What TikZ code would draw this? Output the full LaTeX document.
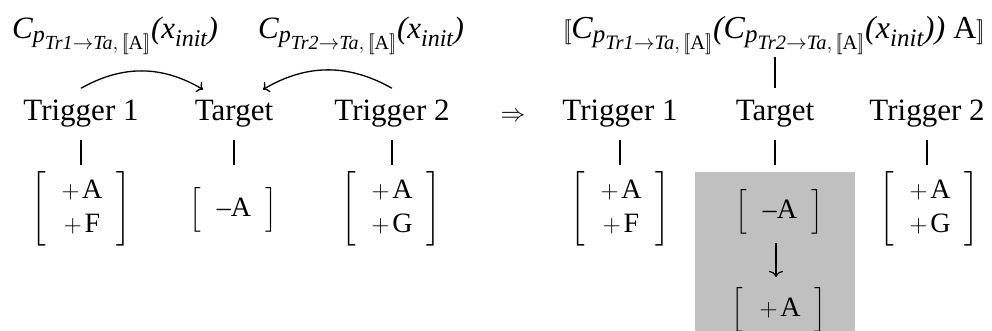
\documentclass[tikz,border=0pt]{standalone}
\usepackage{amsmath}
\usepackage{fontspec}
\setmainfont{Liberation Serif}
\usetikzlibrary{arrows.meta}
\DeclareMathSizes{31}{31}{24}{20}
\DeclareMathSizes{32}{32}{25}{20.5}
\DeclareMathSizes{28}{28}{21}{17}
\newcommand{\dbl}[1]{[\![#1]\!]}
\newcommand{\Cp}[1]{\textit{C}_{\textit{p}_{\textit{Tr#1}\rightarrow\textit{Ta},\,\dbl{\text{A}}}}}
\newcommand{\xinitx}{\textit{x}_{\textit{init}}}
\newcommand{\mtx}[1]{$\left[\begin{tabular}{@{\hspace{16pt}}c@{\hspace{14pt}}}#1\end{tabular}\right]$}
\newcommand{\pl}{$+$\hspace{0.1em}}
\definecolor{boxgray}{HTML}{C0C0C0}
\tikzset{
  lbl/.style={font=\fontsize{31}{36}\selectfont, inner sep=0pt, anchor=base},
  frm/.style={font=\fontsize{31}{36}\selectfont, inner sep=0pt, anchor=base west},
  frmb/.style={font=\fontsize{32}{36}\selectfont, inner sep=0pt, anchor=base west},
  mat/.style={font=\fontsize{28}{34}\selectfont, inner sep=0pt},
  link/.style={line width=1.2pt},
  curv/.style={line width=1.3pt, -{To[length=5.5pt,width=12pt]}},
}
\begin{document}
\begin{tikzpicture}[x=1pt,y=-1pt]
\useasboundingbox (0,0) rectangle (992,331);
% gray box
\fill[boxgray] (695,172) rectangle (855,332);
% left formulas
\node[frm] (f1) at (12,39) {$\Cp{1}\textit{(}\xinitx\textit{)}$};
\node[frm] (f2) at (258,39) {$\Cp{2}\textit{(}\xinitx\textit{)}$};
% left labels
\node[lbl] (t1) at (81,121) {Trigger 1};
\node[lbl] (ta) at (234,121) {Target};
\node[lbl] (t2) at (392,121) {Trigger 2};
% left matrices
\node[mat] (m1) at (81,209) {\mtx{\pl A\\\pl F}};
\node[mat] (mt) at (233,209.5) {\mtx{–A}};
\node[mat] (m2) at (391,209) {\mtx{\pl A\\\pl G}};
\draw[link] ([yshift=-12pt]t1.south) -- ([yshift=6pt]t1.south |- m1.north);
\draw[link] ([yshift=-12pt]ta.south |- t1.south) -- ([yshift=6pt]ta.south |- m1.north);
\draw[link] ([yshift=-12pt]t2.south |- t1.south) -- ([yshift=6pt]t2.south |- m1.north);
% arcs
\draw[curv] ([yshift=12pt]t1.north) to[bend left=30] ([xshift=-31pt,yshift=11pt]ta.north);
\draw[curv] ([yshift=12pt]t2.north) to[bend right=30] ([xshift=29pt,yshift=11pt]ta.north);
% implies
\node[lbl] (imp) at (513,122) {$\Rightarrow$};
% right formula
\node[frmb] (rf) at (563,39) {$\dbl{\Cp{1}\textit{(}\Cp{2}\textit{(}\xinitx\textit{))}\ \text{A}}$};
% right labels
\node[lbl] (rt1) at (620,121) {Trigger 1};
\node[lbl] (rta) at (775,121) {Target};
\node[lbl] (rt2) at (927,121) {Trigger 2};
\draw[link] ([yshift=13pt]rta.north) -- ([yshift=43pt]rta.north);
% right matrices
\node[mat] (rm1) at (620,208.5) {\mtx{\pl A\\\pl F}};
\node[mat] (rmt) at (779,212) {\mtx{–A}};
\node[mat] (rmp) at (779,309.5) {\mtx{\pl A}};
\node[mat] (rm2) at (929,208.5) {\mtx{\pl A\\\pl G}};
\draw[link] ([yshift=-12pt]rt1.south) -- ([yshift=6pt]rt1.south |- rm1.north);
\draw[link] ([yshift=-12pt]rta.south |- rt1.south) -- ([yshift=6pt]rta.south |- rm1.north);
\draw[link] ([yshift=-12pt]rt2.south |- rt1.south) -- ([yshift=6pt]rt2.south |- rm1.north);
\draw[link, -{To[length=6pt,width=14pt]}] ([xshift=-3pt,yshift=-8pt]rmt.south) -- ([xshift=-3pt,yshift=10pt]rmp.north);
\end{tikzpicture}
\end{document}
